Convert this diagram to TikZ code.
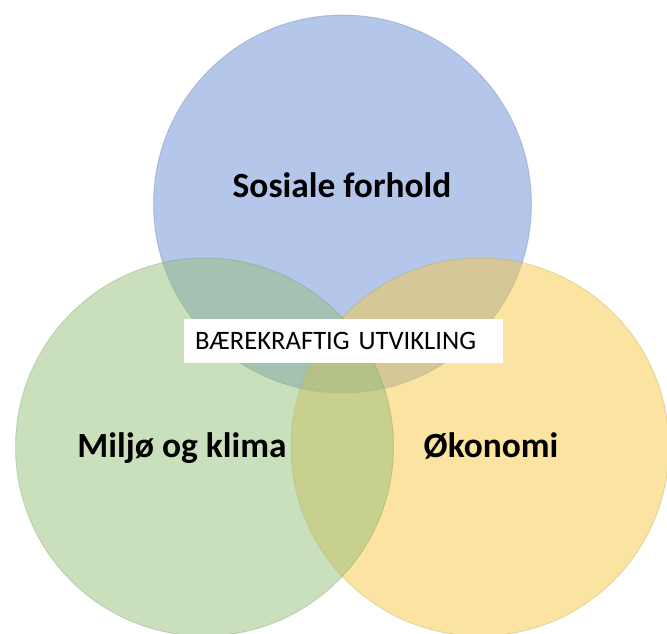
\documentclass[tikz,border=0pt]{standalone}
\usepackage{fontspec}
\setmainfont{Carlito}
\definecolor{socialfill}{RGB}{105,141,213}
\definecolor{envfill}{RGB}{149,191,121}
\definecolor{econfill}{RGB}{247,201,69}
\begin{document}
\begin{tikzpicture}[x=1pt,y=-1pt,
  venn/.style={circle, minimum size=378pt, inner sep=0pt,
    fill opacity=0.5, draw opacity=0.25, line width=1pt},
  title/.style={anchor=base, text=black,
    font=\fontsize{35.4}{40}\selectfont\bfseries},
  banner/.style={fill=white, text=black, inner xsep=11pt, inner ysep=0pt,
    text width=297pt, align=left, minimum height=44pt,
    font=\fontsize{26.6}{30}\selectfont}]
  \useasboundingbox (0,0) rectangle (667,634);

  % the three overlapping circles (yellow under green)
  \node[venn, fill=socialfill, draw=socialfill!70!black] (social) at (342.5,204) {};
  \node[venn, fill=econfill, draw=econfill!70!black] (econ) at (480,447) {};
  \node[venn, fill=envfill, draw=envfill!70!black] (env) at (204.5,447) {};

  % circle titles
  \node[title] (socialtext) at (342,197) {Sosiale forhold};
  \node[title] (envtext) at (182,457) {Miljø og klima};
  \node[title] (econtext) at (491,457) {Økonomi};

  % central banner
  \node[banner, anchor=west] (goal) at (184,341) {BÆREKRAFTIG UTVIKLING};
\end{tikzpicture}
\end{document}
